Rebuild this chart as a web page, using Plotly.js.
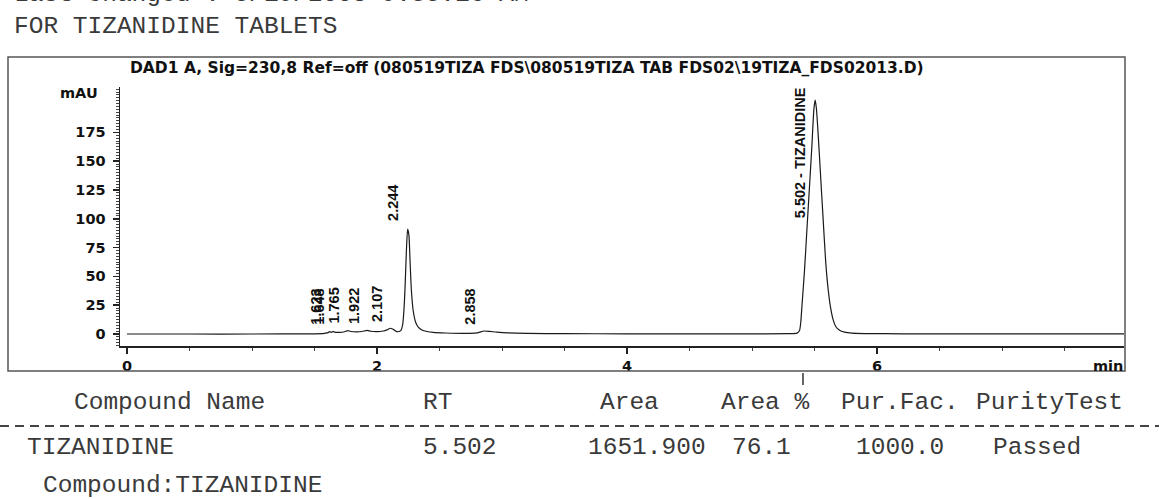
<!DOCTYPE html>
<html>
<head>
<meta charset="utf-8">
<script src="https://cdn.plot.ly/plotly-3.0.1.min.js"></script>
<style>
  html, body { margin: 0; padding: 0; background: #fff; }
  #chart { width: 1159px; height: 499px; }
</style>
</head>
<body>
<div id="chart"></div>
<script>
// ---------- DATA ----------
const times = [0, 0.5, 1.0, 1.5, 1.58, 1.61, 1.623, 1.635, 1.648, 1.66, 1.70, 1.74, 1.765, 1.79, 1.84, 1.88, 1.922, 1.95, 2.00, 2.05, 2.08, 2.107, 2.13, 2.16, 2.19, 2.205, 2.215, 2.225, 2.235, 2.245, 2.255, 2.265, 2.275, 2.29, 2.31, 2.33, 2.36, 2.40, 2.45, 2.55, 2.70, 2.80, 2.858, 2.90, 2.96, 3.05, 3.20, 3.50, 4.0, 4.5, 5.0, 5.30, 5.36, 5.38, 5.39, 5.40, 5.42, 5.44, 5.46, 5.48, 5.495, 5.505, 5.515, 5.53, 5.55, 5.57, 5.59, 5.61, 5.63, 5.65, 5.67, 5.70, 5.74, 5.80, 5.90, 6.2, 7.0, 7.976];
const signal = [0, 0, 0, 0.2, 0.6, 1.2, 2.2, 1.3, 2.4, 1.6, 1.4, 2.0, 3.0, 2.2, 1.8, 2.2, 3.2, 2.4, 2.0, 2.6, 3.6, 5.0, 4.0, 2.0, 3.0, 8, 20, 42, 72, 91, 86, 62, 38, 20, 10, 6, 3.5, 2.2, 1.4, 0.9, 0.6, 1.0, 2.6, 2.3, 1.6, 1.0, 0.6, 0.3, 0.2, 0.2, 0.2, 0.3, 0.8, 3, 10, 25, 55, 92, 128, 165, 195, 203, 196, 172, 135, 98, 62, 38, 22, 12, 6.5, 3.2, 1.6, 0.8, 0.4, 0.2, 0.1, 0.1];

const peakTimes  = [1.623, 1.648, 1.765, 1.922, 2.107, 2.244, 2.858, 5.502];
const peakHeights = [2.2, 2.4, 3.0, 3.2, 5.0, 92, 2.6, 203];
const peakLabels = ["1.623", "1.648", "1.765", "1.922", "2.107", "2.244", "2.858", "5.502 - TIZANIDINE"];

const yTicks = [0, 25, 50, 75, 100, 125, 150, 175];
const xTicks = [0, 2, 4, 6];

const chartTitle = "DAD1 A, Sig=230,8 Ref=off (080519TIZA FDS\\080519TIZA TAB FDS02\\19TIZA_FDS02013.D)";
const headerCut = "Last changed : 5/19/2008 9:35:16 AM";
const reportTitle = "FOR TIZANIDINE TABLETS";
const tableHeaders = ["Compound Name", "RT", "Area", "Area %", "Pur.Fac.", "PurityTest"];
const tableRow = ["TIZANIDINE", "5.502", "1651.900", "76.1", "1000.0", "Passed"];
const footer = "Compound:TIZANIDINE";

// ---------- LAYOUT ----------
const W = 1159, H = 499;
const px = v => v / W;
const py = v => (H - v) / H;

const mono = { family: "Liberation Mono, DejaVu Sans Mono, monospace", size: 24.5, color: "#3a3a3a" };
const bold = { family: "DejaVu Sans, Liberation Sans, sans-serif", size: 14.5, color: "#111", weight: "bold" };
const labelFont = { family: "Liberation Sans Narrow, Liberation Sans, Arial, sans-serif", size: 14.5, color: "#111", weight: "bold" };

const annotations = [];
function txt(text, x, y, font, xanchor, yanchor) {
  annotations.push({ text, x: px(x), y: py(y), xref: "paper", yref: "paper",
    xanchor: xanchor || "left", yanchor: yanchor || "middle", showarrow: false, font });
}
txt(headerCut, 12, 10, mono, "left", "bottom");
txt(reportTitle, 12, 26, mono);
txt(chartTitle, 128, 68, Object.assign({}, bold, { size: 15.5 }));
txt("mAU", 100, 93, bold, "right");
txt("min", 1125, 366, bold, "right");

const headerX = [72, 421, 598, 719, 839, 974];
tableHeaders.forEach((h, i) => txt(h, headerX[i], 402, mono));
const rowX = [25, 421, 586, 730, 854, 991];
tableRow.forEach((r, i) => txt(r, rowX[i], 447, mono));
txt(footer, 41, 485, mono);

// peak labels (rotated, placed at the peak)
peakTimes.forEach((t, i) => {
  annotations.push({
    text: peakLabels[i], x: t, y: Math.min(peakHeights[i] + 4, 99), xref: "x", yref: "y",
    textangle: -90, xanchor: "right", yanchor: "bottom", xshift: -4,
    showarrow: false, font: labelFont
  });
});

const shapes = [
  { type: "rect", xref: "paper", yref: "paper", x0: px(8), x1: px(1125), y0: py(371), y1: py(57),
    line: { color: "#555", width: 1.5 } },
  { type: "line", xref: "paper", yref: "paper", x0: 0, x1: 1, y0: py(426), y1: py(426),
    line: { color: "#444", width: 2, dash: "9px,6px" } },
  { type: "line", xref: "paper", yref: "paper", x0: px(803), x1: px(803), y0: py(373), y1: py(385),
    line: { color: "#333", width: 1.5 } }
];

const trace = {
  x: times, y: signal, type: "scatter", mode: "lines",
  line: { color: "#1a1a1a", width: 1.2, shape: "spline", smoothing: 0.6 },
  hoverinfo: "skip"
};

const layout = {
  width: W, height: H,
  margin: { l: 0, r: 0, t: 0, b: 0 },
  paper_bgcolor: "#fff", plot_bgcolor: "rgba(0,0,0,0)",
  showlegend: false,
  xaxis: {
    domain: [px(120), px(1124)], range: [-0.056, 7.976],
    tickmode: "array", tickvals: xTicks, ticktext: xTicks.map(String),
    ticks: "outside", ticklen: 6, tickwidth: 1.5, tickcolor: "#222",
    showline: true, linecolor: "#222", linewidth: 1.5,
    showgrid: false, zeroline: false, tickfont: bold,
    minor: { tickmode: "linear", tick0: 0, dtick: 0.5, ticks: "outside", ticklen: 3, tickcolor: "#444", tickwidth: 1, showgrid: false }
  },
  yaxis: {
    domain: [py(346), py(87)], range: [-10.4, 214.4],
    tickmode: "array", tickvals: yTicks, ticktext: yTicks.map(String),
    ticks: "outside", ticklen: 6, tickwidth: 1.5, tickcolor: "#222",
    showline: true, linecolor: "#222", linewidth: 1.5,
    showgrid: false, zeroline: false, tickfont: bold, ticklabelstandoff: 4,
    minor: { tickmode: "linear", tick0: 0, dtick: 2.5, ticks: "outside", ticklen: 3, tickcolor: "#444", tickwidth: 1, showgrid: false }
  },
  annotations, shapes
};

Plotly.newPlot("chart", [trace], layout, { staticPlot: true, displayModeBar: false });
</script>
</body>
</html>
